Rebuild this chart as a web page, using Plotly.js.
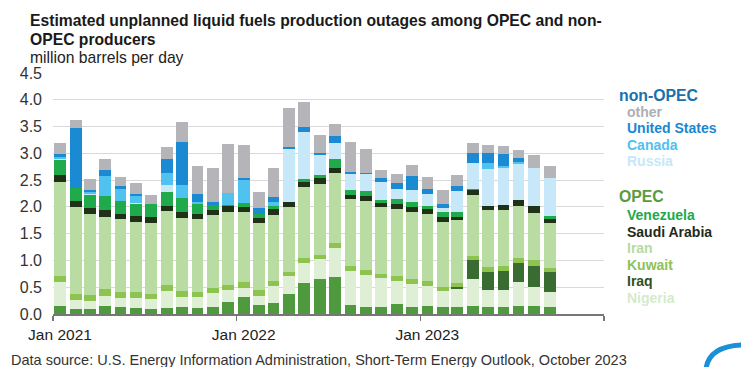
<!DOCTYPE html>
<html><head><meta charset="utf-8">
<script src="https://cdn.plot.ly/plotly-3.0.1.min.js"></script>
<style>html,body{margin:0;padding:0;background:#fff}#chart{width:741px;height:367px}</style>
</head><body><div id="chart"></div>
<script>
// Months (Jan 2021 - Sep 2023)
const months = ['2021-01','2021-02','2021-03','2021-04','2021-05','2021-06','2021-07','2021-08','2021-09','2021-10','2021-11','2021-12',
                '2022-01','2022-02','2022-03','2022-04','2022-05','2022-06','2022-07','2022-08','2022-09','2022-10','2022-11','2022-12',
                '2023-01','2023-02','2023-03','2023-04','2023-05','2023-06','2023-07','2023-08','2023-09'];

// OPEC (million barrels per day), bottom of stack first
const libya     = [0.15,0.10,0.09,0.15,0.125,0.105,0.10,0.105,0.125,0.105,0.14,0.23,0.31,0.17,0.20,0.375,0.575,0.65,0.685,0.17,0.14,0.125,0.18,0.14,0.155,0.125,0.14,0.15,0.14,0.14,0.155,0.15,0.14];
const nigeria   = [0.44,0.16,0.16,0.19,0.17,0.19,0.175,0.33,0.19,0.22,0.25,0.21,0.18,0.17,0.33,0.34,0.375,0.375,0.54,0.64,0.59,0.54,0.44,0.425,0.37,0.305,0.32,0.50,0.30,0.31,0.435,0.36,0.28];
const iraq      = [0,0,0,0,0,0,0,0,0,0,0,0,0,0,0,0,0,0,0,0,0,0,0,0,0,0,0.05,0.36,0.35,0.36,0.36,0.38,0.36];
const kuwait    = [0.12,0.11,0.10,0.12,0.11,0.11,0.10,0.11,0.11,0.095,0.09,0.10,0.10,0.11,0.095,0.075,0.09,0.085,0.095,0.08,0.09,0.08,0.09,0.09,0.085,0.065,0.075,0.075,0.085,0.09,0.095,0.125,0.08];
const iran      = [1.76,1.625,1.51,1.36,1.36,1.31,1.33,1.37,1.37,1.36,1.36,1.36,1.31,1.25,1.22,1.21,1.33,1.32,1.32,1.26,1.29,1.25,1.25,1.25,1.26,1.23,1.17,1.14,1.075,1.04,0.98,0.875,0.84];
const saudi     = [0.12,0.12,0.12,0.12,0.11,0.11,0.11,0.11,0.11,0.095,0.10,0.11,0.10,0.10,0.11,0.09,0.10,0.11,0.095,0.08,0.095,0.075,0.095,0.095,0.095,0.085,0.065,0.085,0.075,0.09,0.095,0.125,0.08];
const venezuela = [0.28,0.24,0.24,0.27,0.23,0.22,0.23,0.25,0.26,0.18,0.09,0.02,0.075,0.075,0.055,0,0.05,0.06,0.155,0.08,0.09,0.06,0.10,0.10,0.05,0.09,0.08,0.025,0,0,0,0.01,0.055];
// non-OPEC
const russia    = [0.02,0,0.02,0,0,0.03,0,0.125,0,0,0,0,0,0,0,1.0,0.875,0.36,0.30,0.31,0.31,0.33,0.18,0.21,0.23,0.08,0.39,0.49,0.69,0.69,0.69,0.71,0.71];
const canada    = [0.04,0,0.045,0.375,0.22,0.125,0,0.225,0.24,0.03,0.01,0.23,0.425,0,0.08,0,0,0,0,0,0,0,0,0,0,0,0,0,0.10,0.05,0.03,0,0];
const us        = [0.06,1.12,0.03,0.11,0.06,0.04,0,0.275,0.80,0.16,0.045,0,0.04,0.105,0.09,0.025,0.10,0.05,0.125,0.03,0.025,0.075,0.11,0.275,0.09,0.08,0.105,0.19,0.19,0.22,0.07,0,0];
const other     = [0.21,0.14,0.21,0.19,0.175,0.21,0.18,0.21,0.375,0.525,0.64,0.92,0.61,0.30,0.55,0.73,0.47,0.325,0.23,0.56,0.46,0.155,0.175,0.19,0.225,0.255,0.20,0.175,0.15,0.145,0.155,0.23,0.22];

const tickDates = ['2021-01-01','2022-01-01','2023-01-01','2024-01-01'];
const tickLabels = ['Jan 2021','Jan 2022','Jan 2023',''];

const x = months.map(m => m + '-15');
const DAY = 86400000;

const series = [
  ['Libya', libya, '#4f9a3f'],
  ['Nigeria', nigeria, '#deefd6'],
  ['Iraq', iraq, '#386c31'],
  ['Kuwait', kuwait, '#8dc44f'],
  ['Iran', iran, '#b9dca2'],
  ['Saudi Arabia', saudi, '#1f3116'],
  ['Venezuela', venezuela, '#1fab4b'],
  ['Russia', russia, '#c7e8f9'],
  ['Canada', canada, '#4fc2f0'],
  ['United States', us, '#1a8bd2'],
  ['other', other, '#b4b4b9']
];

const traces = series.map(([name, vals, color]) => ({
  type: 'bar', name: name, x: x, y: vals,
  marker: {color: color, line: {width: 0}},
  width: 23.3 * DAY, showlegend: false, hoverinfo: 'skip'
}));

// pixel -> paper helpers for text placement
const L = 53, R = 137, T = 73, B = 53, W = 741, H = 367;
const pw = W - L - R, ph = H - T - B;
const px = v => (v - L) / pw;
const py = v => (H - B - v) / ph;
const FONT = 'Liberation Sans, Arial, sans-serif';

function txt(text, color, xPix, baseline, size, bold) {
  return {
    text: bold ? '<b>' + text + '</b>' : text,
    xref: 'paper', yref: 'paper', x: px(xPix), y: py(baseline - 0.35 * size),
    xanchor: 'left', yanchor: 'middle', showarrow: false,
    font: {family: FONT, size: size, color: color}, borderpad: 0
  };
}

const annotations = [
  txt('Estimated unplanned liquid fuels production outages among OPEC and non-', '#1a1a1a', 29, 26, 15.7, true),
  txt('OPEC producers', '#1a1a1a', 29, 45, 15.7, true),
  txt('million barrels per day', '#222222', 29, 63.3, 15.7, false),
  txt('non-OPEC', '#1a70ab', 617.5, 101, 15.8, true),
  txt('other', '#aeaeb3', 626, 117.3, 14, true),
  txt('United States', '#1b87cf', 626, 133.3, 14, true),
  txt('Canada', '#50c1ef', 626, 149.5, 14, true),
  txt('Russia', '#c6e7f8', 626, 166, 14, true),
  txt('OPEC', '#5a9b3e', 617.5, 201.7, 15.8, true),
  txt('Venezuela', '#21a84a', 626, 220, 14, true),
  txt('Saudi Arabia', '#1f2b18', 626, 236.6, 14, true),
  txt('Iran', '#b7daa0', 626, 253.2, 14, true),
  txt('Kuwait', '#8dc355', 626, 269.8, 14, true),
  txt('Iraq', '#2e5124', 626, 286, 14, true),
  txt('Nigeria', '#d4ebca', 626, 302.4, 14, true),
  txt('Data source: U.S. Energy Information Administration, Short-Term Energy Outlook, October 2023', '#333333', 10, 365, 14.5, false)
];

const layout = {
  width: W, height: H,
  margin: {l: L, r: R, t: T, b: B, pad: 0},
  paper_bgcolor: '#ffffff', plot_bgcolor: '#ffffff',
  barmode: 'stack',
  font: {family: FONT, color: '#333333'},
  xaxis: {
    type: 'date', range: ['2021-01-01', '2024-01-01'],
    tickmode: 'array', tickvals: tickDates, ticktext: tickLabels,
    ticks: 'outside', ticklen: 5, tickwidth: 1.5, tickcolor: '#777777',
    showline: true, linecolor: '#777777', linewidth: 1.5,
    showgrid: false, zeroline: false,
    tickfont: {family: FONT, size: 15.5, color: '#222222'},
    ticklabelshift: 7, ticklabelstandoff: 1, fixedrange: true
  },
  yaxis: {
    range: [0, 4.5], tickmode: 'linear', tick0: 0, dtick: 0.5, tickformat: '.1f',
    showgrid: true, gridcolor: '#d9d9d9', gridwidth: 1.2,
    zeroline: false, showline: false, ticks: '',
    tickfont: {family: FONT, size: 16, color: '#333333'},
    ticklabelstandoff: 10, fixedrange: true
  },
  annotations: annotations,
  shapes: [{
    type: 'path', xref: 'paper', yref: 'paper',
    path: 'M ' + px(706) + ' ' + py(369) + ' Q ' + px(709) + ' ' + py(346) + ' ' + px(743) + ' ' + py(345),
    line: {color: '#1c8fd6', width: 5}
  }]
};

Plotly.newPlot('chart', traces, layout, {staticPlot: true, displayModeBar: false});
</script>
</body></html>
